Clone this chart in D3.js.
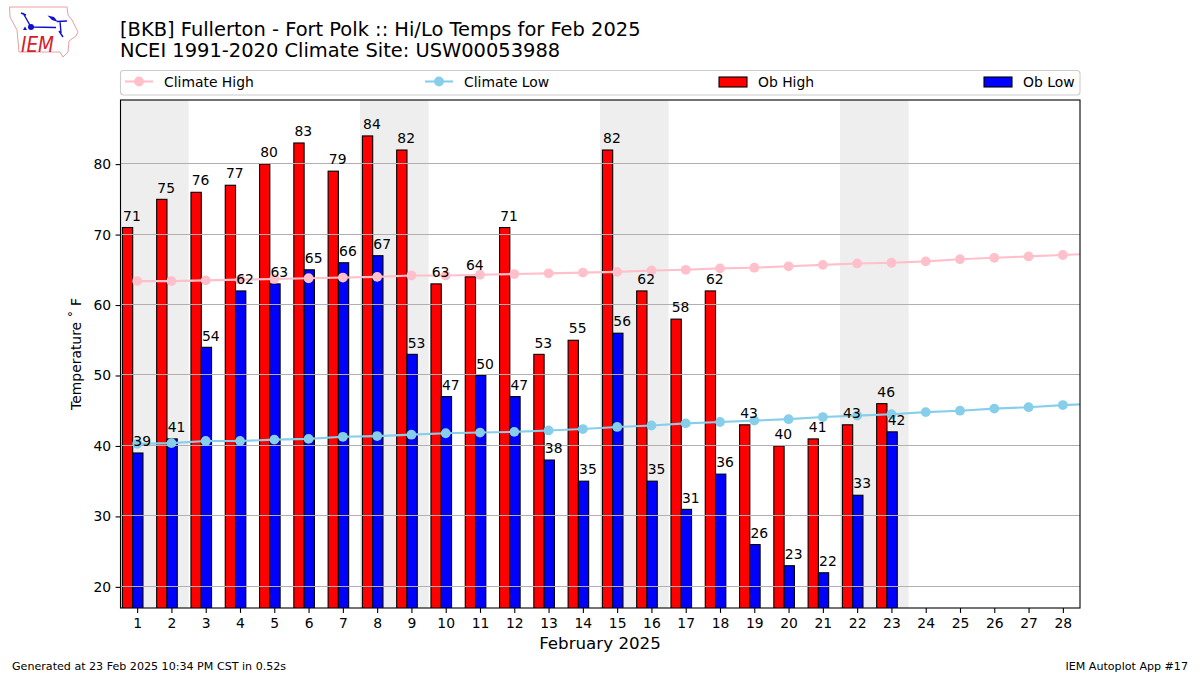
<!DOCTYPE html>
<html><head><meta charset="utf-8">
<script src="https://cdnjs.cloudflare.com/ajax/libs/d3/7.8.5/d3.min.js"></script>
<style>html,body{margin:0;background:#fff}svg{display:block}text{font-family:"DejaVu Sans";fill:#000}</style>
</head><body><svg id="c" width="1200" height="675"></svg>
<script>
const days = d3.range(1,29);
const obHigh = [71,75,76,77,80,83,79,84,82,63,64,71,53,55,82,62,58,62,43,40,41,43,46];
const obLow  = [39,41,54,62,63,65,66,67,53,47,50,47,38,35,56,35,31,36,26,23,22,33,42];
const climateHigh = [63.4,63.4,63.5,63.6,63.7,63.8,63.9,64.0,64.2,64.2,64.3,64.4,64.5,64.6,64.7,64.9,65.0,65.2,65.3,65.5,65.7,65.9,66.0,66.2,66.5,66.7,66.9,67.1,67.3];
const climateLow  = [40.3,40.4,40.7,40.7,40.9,41.0,41.3,41.4,41.6,41.8,41.9,42.0,42.2,42.4,42.7,42.9,43.2,43.4,43.6,43.8,44.1,44.3,44.5,44.8,45.0,45.3,45.5,45.8,46.0];
const weekendSpans = [[1,2],[8,9],[15,16],[22,23]];
const yTicks = [20,30,40,50,60,70,80];
const legendItems = ["Climate High","Climate Low","Ob High","Ob Low"];
const titleLines = ["[BKB] Fullerton - Fort Polk :: Hi/Lo Temps for Feb 2025","NCEI 1991-2020 Climate Site: USW00053988"];

const L=120,R=1080,T=100,B=608;
const svg=d3.select("#c");
const x=d3.scaleLinear().domain([0.5,28.5]).range([L,R]);
const y=d3.scaleLinear().domain([17,89.1]).range([B,T]);
const defs=svg.append("defs");
defs.append("clipPath").attr("id","plot").append("rect").attr("x",L).attr("y",T).attr("width",R-L).attr("height",B-T);
const g=svg.append("g").attr("clip-path","url(#plot)");

g.selectAll("rect.wk").data(weekendSpans).join("rect").attr("class","wk")
 .attr("x",d=>x(d[0]-.5)).attr("width",d=>x(d[1]+.5)-x(d[0]-.5)).attr("y",T).attr("height",B-T).attr("fill","#eeeeee");

const bw=x(1.3)-x(1);
const bars=(data,off,col)=>g.selectAll("rect."+col).data(data).join("rect").attr("class",col)
 .attr("x",(d,i)=>x(days[i]+off)).attr("width",bw).attr("y",d=>y(d)).attr("height",d=>B+5-y(d))
 .attr("fill",col).attr("stroke","#000").attr("stroke-width",1.1);
bars(obHigh,-0.43,"red");
bars(obLow,-0.13,"blue");

g.selectAll("line.grid").data(yTicks).join("line").attr("class","grid")
 .attr("x1",L).attr("x2",R).attr("y1",d=>Math.round(y(d))-.5).attr("y2",d=>Math.round(y(d))-.5)
 .attr("stroke","#b0b0b0").attr("stroke-width",1.1);

const line=d3.line().x((d,i)=>x(i+1)).y(d=>y(d));
[[climateHigh,"pink"],[climateLow,"skyblue"]].forEach(([s,c])=>{
 g.append("path").attr("d",line(s)).attr("fill","none").attr("stroke",c).attr("stroke-width",2.1);
 g.selectAll("circle."+c).data(s).join("circle").attr("class",c).attr("cx",(d,i)=>x(i+1)).attr("cy",d=>y(d)).attr("r",4.9).attr("fill",c);
});

const lab=(data,off)=>svg.append("g").selectAll("text").data(data).join("text")
 .attr("x",(d,i)=>x(days[i]+off)).attr("y",d=>y(d)-6.8).attr("font-size",13.9).text(d=>d);
lab(obHigh,-0.41);
lab(obLow,-0.11);

svg.append("rect").attr("x",L+.5).attr("y",T).attr("width",R-L-.5).attr("height",B-T).attr("fill","none").attr("stroke","#000").attr("stroke-width",1.1);

const ax=svg.append("g").attr("transform",`translate(0,${B})`).call(d3.axisBottom(x).tickValues(days).tickFormat(d3.format("d")).tickSize(4.9).tickPadding(5.5));
const ay=svg.append("g").attr("transform",`translate(${L+.5},0)`).call(d3.axisLeft(y).tickValues(yTicks).tickSize(4.9).tickPadding(4.5));
[ax,ay].forEach(a=>{a.select(".domain").remove();a.selectAll("line").attr("stroke","#000").attr("stroke-width",1.1);
 a.selectAll("text").attr("font-size",13.9).attr("font-family","DejaVu Sans");});

svg.append("text").attr("x",600).attr("y",649).attr("text-anchor","middle").attr("font-size",16.7).text("February 2025");
svg.append("text").attr("transform","translate(81,354) rotate(-90)").attr("text-anchor","middle").attr("font-size",13.9).text("Temperature ˚ F");
titleLines.forEach((t,i)=>svg.append("text").attr("x",120).attr("y",[35.5,57][i]).attr("font-size",19.45).text(t));
svg.append("text").attr("x",12).attr("y",670).attr("font-size",11.1).text("Generated at 23 Feb 2025 10:34 PM CST in 0.52s");
svg.append("text").attr("x",1188).attr("y",670).attr("text-anchor","end").attr("font-size",11.1).text("IEM Autoplot App #17");

// legend
svg.append("rect").attr("x",120.5).attr("y",70.5).attr("width",959.5).attr("height",24.5).attr("rx",3).attr("fill","#fff").attr("stroke","#ccc").attr("stroke-width",1.1);
const lx=[125,425,719,984], tx=[164,464,758,1023], lcol=["pink","skyblue","red","blue"];
legendItems.forEach((t,i)=>{
 const ly=81.5;
 if(i<2){
  svg.append("line").attr("x1",lx[i]).attr("x2",lx[i]+28).attr("y1",ly).attr("y2",ly).attr("stroke",lcol[i]).attr("stroke-width",2.1);
  svg.append("circle").attr("cx",lx[i]+14).attr("cy",ly).attr("r",4.9).attr("fill",lcol[i]);
 } else {
  svg.append("rect").attr("x",lx[i]).attr("y",77).attr("width",28).attr("height",10).attr("fill",lcol[i]).attr("stroke","#000").attr("stroke-width",1.1);
 }
 svg.append("text").attr("x",tx[i]).attr("y",86.5).attr("font-size",13.9).text(t);
});

// logo
const logo=svg.append("g");
logo.append("path").attr("d","M9.5 7 L67 7 L68 15 L72 20 L78 32 L76 36 L69 41 L68 52 L63 57 L60 52 L19 52 L17 30 L10 17 Z")
 .attr("fill","#fff").attr("stroke","#e8a0a0").attr("stroke-width",1);
logo.append("path").attr("d","M31 27 L56 27.5 M60 21 L61 33 M23 13 L31 27 M21 13 L26 15 M57 21.5 L67 21 M59 31 L63 37")
 .attr("fill","none").attr("stroke","#1010d0").attr("stroke-width",1.4);
logo.append("path").attr("d","M47.5 15.5 L54 17 L58 22 L52 20 Z").attr("fill","#1010d0");
logo.append("path").attr("d","M23 30 L25 26.5 L27 30 Z").attr("fill","#1010d0");
logo.append("circle").attr("cx",31).attr("cy",27).attr("r",3).attr("fill","#1010d0");
logo.append("text").attr("x",21).attr("y",52).attr("font-family","Liberation Serif").attr("font-style","italic").attr("font-size",22).attr("textLength",33).attr("lengthAdjust","spacingAndGlyphs").style("fill","#d62028").text("IEM");
</script></body></html>
